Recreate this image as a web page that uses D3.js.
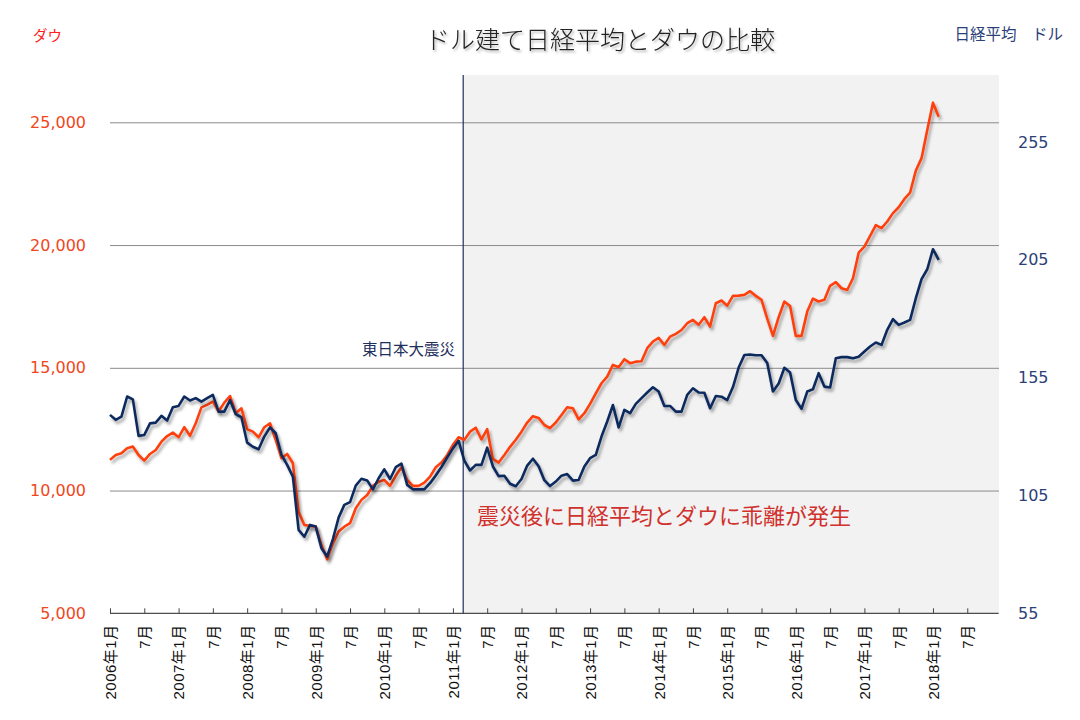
<!DOCTYPE html>
<html>
<head>
<meta charset="utf-8">
<script src="https://cdn.jsdelivr.net/npm/d3@7"></script>
<style>
  html, body { margin: 0; padding: 0; background: #fff; }
  svg { display: block; }
</style>
</head>
<body>
<svg id="chart" width="1080" height="720"></svg>
<script>
// ---------------- data ----------------
const startYear = 2006;
const tickMonths = d3.range(0, 151, 6);           // 2006年1月 ... 2018年7月
const tickLabels = tickMonths.map(m => m % 12 === 0 ? `${startYear + m / 12}年1月` : "7月");
const leftTicks = [5000, 10000, 15000, 20000, 25000];
const rightTicks = [55, 105, 155, 205, 255];
const quakeIndex = 61.8;   // 2011年3月 東日本大震災

// ダウ平均 (月平均, USD) 2006年1月 - 2018年2月
const dow = [
  11250, 11450, 11520, 11720, 11790, 11450, 11220, 11490, 11650, 11990, 12220, 12360,
  12170, 12580, 12230, 12740, 13390, 13490, 13620, 13220, 13580, 13850, 13150, 13350,
  12500, 12400, 12170, 12580, 12740, 12060, 11320, 11490, 11110, 9140, 8600, 8560,
  8530, 7780, 7200, 7850, 8330, 8530, 8670, 9280, 9620, 9820, 10190, 10360,
  10430, 10190, 10600, 10950, 10430, 10190, 10190, 10320, 10570, 10950, 11140, 11450,
  11860, 12170, 12070, 12400, 12560, 12080, 12500, 11290, 11140, 11450, 11780, 12070,
  12400, 12770, 13030, 12960, 12670, 12540, 12770, 13080, 13390, 13350, 12900, 13150,
  13530, 13960, 14370, 14640, 15120, 15020, 15350, 15190, 15250, 15270, 15800, 16070,
  16220, 15930, 16270, 16380, 16540, 16815, 16950, 16750, 17060, 16680, 17630, 17740,
  17530, 17930, 17940, 17970, 18120, 17930, 17770, 17000, 16300, 17060, 17700, 17520,
  16300, 16300, 17290, 17820, 17700, 17770, 18340, 18490, 18240, 18170, 18650, 19690,
  19940, 20370, 20810, 20690, 20960, 21300, 21540, 21880, 22140, 23030, 23540, 24690,
  25800, 25230
];
// ドル建て日経平均 (USD) 2006年1月 - 2018年2月
const nikkeiUsd = [
  139.2, 137.1, 138.5, 147.0, 145.8, 130.3, 130.7, 135.6, 135.9, 138.8, 136.8, 142.4,
  143.0, 147.0, 145.3, 146.3, 144.8, 146.3, 147.7, 140.6, 140.6, 145.5, 139.5, 138.2,
  127.4, 125.7, 124.6, 130.0, 133.9, 131.4, 122.2, 118.0, 113.0, 90.4, 87.5, 92.5,
  91.8, 82.6, 79.1, 86.5, 95.6, 101.0, 102.2, 109.2, 112.1, 111.4, 107.6, 112.3,
  116.1, 112.0, 117.0, 118.5, 109.5, 107.6, 107.6, 107.6, 110.2, 113.5, 117.1, 121.1,
  125.0, 128.2, 119.8, 115.6, 118.0, 118.0, 125.3, 117.3, 113.2, 113.4, 110.0, 108.9,
  112.0, 117.7, 120.6, 117.4, 111.5, 109.0, 110.9, 113.4, 114.1, 111.3, 111.6, 117.3,
  120.8, 122.2, 130.0, 136.4, 143.4, 133.9, 141.3, 139.9, 143.9, 146.3, 148.7, 150.9,
  149.1, 143.0, 143.0, 140.6, 140.6, 147.7, 150.5, 148.7, 148.6, 142.0, 147.2, 146.9,
  145.5, 151.0, 159.3, 164.6, 164.8, 164.5, 164.5, 161.2, 149.1, 152.5, 159.2, 157.2,
  145.5, 141.8, 149.1, 150.1, 156.9, 151.2, 150.8, 163.2, 163.7, 163.7, 163.2, 163.9,
  166.1, 168.2, 169.9, 168.9, 175.3, 179.8, 177.4, 178.4, 179.5, 188.7, 196.8, 201.0,
  209.5, 205.0
];

// ---------------- layout ----------------
const plotLeft = 110, plotRight = 999, plotTop = 75, plotBottom = 613.3;
const svg = d3.select("#chart");
const jpFont = "'Noto Sans CJK JP', 'Noto Sans', sans-serif";
const numFont = "'Liberation Sans', Arial, sans-serif";
const axisNumFont = "'DejaVu Sans', sans-serif";

const x = d3.scaleLinear().domain([0, 155.5]).range([plotLeft, 998.7]);
const yL = d3.scaleLinear().domain([5000, 25000]).range([plotBottom, 122.3]);
const yR = d3.scaleLinear().domain([55, 255]).range([plotBottom, 142]);

const defs = svg.append("defs");
const sh = defs.append("filter").attr("id", "shadow").attr("x", "-5%").attr("y", "-5%").attr("width", "110%").attr("height", "120%");
sh.append("feDropShadow").attr("dx", 2).attr("dy", 3).attr("stdDeviation", 1.6)
  .attr("flood-color", "#000").attr("flood-opacity", 0.35);
const tsh = defs.append("filter").attr("id", "tshadow").attr("x", "-5%").attr("y", "-20%").attr("width", "110%").attr("height", "150%");
tsh.append("feDropShadow").attr("dx", 1.5).attr("dy", 2).attr("stdDeviation", 1.2)
  .attr("flood-color", "#000").attr("flood-opacity", 0.3);

// shaded post-quake region
svg.append("rect")
  .attr("x", x(quakeIndex)).attr("y", plotTop)
  .attr("width", plotRight - x(quakeIndex)).attr("height", plotBottom - plotTop)
  .attr("fill", "#f2f2f2");

// gridlines
const grid = svg.append("g").attr("transform", `translate(${plotLeft},0)`)
  .call(d3.axisLeft(yL).tickValues(leftTicks.slice(1)).tickSize(-(plotRight - plotLeft)).tickFormat(""));
grid.select(".domain").remove();
grid.selectAll("line").attr("stroke", "#8a8a8a").attr("stroke-width", 1);

// quake line
svg.append("line")
  .attr("x1", x(quakeIndex)).attr("x2", x(quakeIndex))
  .attr("y1", plotTop).attr("y2", plotBottom)
  .attr("stroke", "#1f3060").attr("stroke-width", 1.2);

// x axis
const xAxis = svg.append("g").attr("transform", `translate(0,${plotBottom})`)
  .call(d3.axisBottom(x).tickValues(tickMonths).tickSize(-5)
        .tickFormat((d, i) => tickLabels[i]));
xAxis.select(".domain").attr("stroke", "#222").attr("d", `M${plotLeft},0H${998.7}`);
xAxis.selectAll(".tick line").attr("stroke", "#444");
xAxis.selectAll(".tick text")
  .attr("transform", "rotate(-90)")
  .attr("x", -11).attr("y", 0).attr("dy", "0.36em")
  .attr("text-anchor", "end")
  .attr("fill", "#111")
  .style("font-family", numFont + ", 'Noto Sans CJK JP'")
  .style("font-size", "15px")
  .style("letter-spacing", "0.5px");

// left axis (Dow)
const lAxis = svg.append("g").attr("transform", "translate(86,0)")
  .call(d3.axisLeft(yL).tickValues(leftTicks).tickSize(0).tickPadding(0).tickFormat(d3.format(",")));
lAxis.select(".domain").remove();
lAxis.selectAll("text").attr("fill", "#f0461c")
  .style("font-family", axisNumFont).style("font-size", "16px");

// right axis (Nikkei USD)
const rAxis = svg.append("g").attr("transform", "translate(1018,0)")
  .call(d3.axisRight(yR).tickValues(rightTicks).tickSize(0).tickPadding(0));
rAxis.select(".domain").remove();
rAxis.selectAll("text").attr("fill", "#2c3f78")
  .style("font-family", axisNumFont).style("font-size", "16px");

// lines
const line = (yScale) => d3.line().x((d, i) => x(i)).y(d => yScale(d));
svg.append("path").datum(dow)
  .attr("d", line(yL)).attr("fill", "none")
  .attr("stroke", "#ff4010").attr("stroke-width", 2.6).attr("stroke-linejoin", "round")
  .attr("filter", "url(#shadow)");
svg.append("path").datum(nikkeiUsd)
  .attr("d", line(yR)).attr("fill", "none")
  .attr("stroke", "#102a5e").attr("stroke-width", 2.6).attr("stroke-linejoin", "round")
  .attr("filter", "url(#shadow)");

// titles & annotations
svg.append("text").attr("x", 600).attr("y", 49).attr("text-anchor", "middle")
  .attr("fill", "#222").attr("filter", "url(#tshadow)")
  .style("font-family", jpFont).style("font-size", "25px").style("font-weight", 300)
  .text("ドル建て日経平均とダウの比較");
svg.append("text").attr("x", 33).attr("y", 41)
  .attr("fill", "#ff2020").style("font-family", jpFont).style("font-size", "14.5px")
  .text("ダウ");
svg.append("text").attr("x", 1063).attr("y", 40).attr("text-anchor", "end")
  .attr("fill", "#2c3f78").style("font-family", jpFont).style("font-size", "15.5px")
  .text("日経平均　ドル");
svg.append("text").attr("x", 455).attr("y", 355).attr("text-anchor", "end")
  .attr("fill", "#1f3060").style("font-family", jpFont).style("font-size", "15.5px")
  .text("東日本大震災");
svg.append("text").attr("x", 477).attr("y", 524)
  .attr("fill", "#d0312d").style("font-family", jpFont).style("font-size", "22px")
  .text("震災後に日経平均とダウに乖離が発生");
</script>
</body>
</html>
